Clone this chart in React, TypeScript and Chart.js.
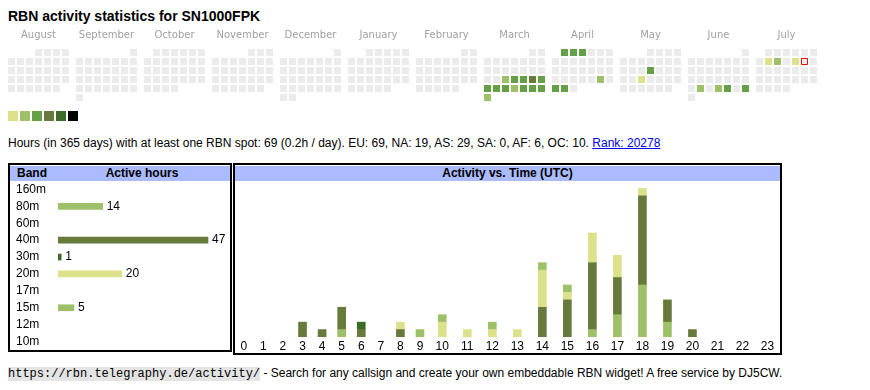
import React, { useEffect, useRef } from 'react';
import { Chart, registerables } from 'chart.js';

Chart.register(...registerables);

const SANS = '"Liberation Sans", Arial, Helvetica, sans-serif';
const MONO = '"Liberation Mono", "Courier New", monospace';

// ---------- data ----------
const CALLSIGN = 'SN1000FPK';
const MONTHS = ['August', 'September', 'October', 'November', 'December', 'January', 'February', 'March', 'April', 'May', 'June', 'July'];
const START_YEAR = 2024;
const START_MONTH = 7; // August (0-based)
const TODAY = '2025-07-12';

const ACTIVE_DATES = [
  '2025-03-19', '2025-03-20', '2025-03-21', '2025-03-22', '2025-03-23',
  '2025-03-24', '2025-03-25', '2025-03-26', '2025-03-27', '2025-03-28', '2025-03-29', '2025-03-30', '2025-03-31',
  '2025-04-01', '2025-04-02', '2025-04-03', '2025-04-26', '2025-04-28', '2025-04-29',
  '2025-05-15', '2025-05-21',
  '2025-06-24', '2025-06-26', '2025-06-27', '2025-06-29',
  '2025-07-08', '2025-07-09', '2025-07-11',
];
const ACTIVE_LEVELS = [
  2, 3, 3, 4, 3,
  3, 3, 3, 2, 3, 3, 3, 2,
  3, 3, 3, 2, 3, 3,
  3, 1,
  2, 2, 3, 3,
  1, 2, 1,
];
const LEVEL_COLORS = ['#ebebeb', '#dce28c', '#9dc069', '#66a046', '#677a3b', '#3b6b27', '#000000'];

const BANDS = ['160m', '80m', '60m', '40m', '30m', '20m', '17m', '15m', '12m', '10m'];
const BAND_COLORS = ['#c8c8c8', '#9dc069', '#c8c8c8', '#677a3b', '#3b6b27', '#dce28c', '#c8c8c8', '#9dc069', '#c8c8c8', '#c8c8c8'];
const HOURS = ['0', '1', '2', '3', '4', '5', '6', '7', '8', '9', '10', '11', '12', '13', '14', '15', '16', '17', '18', '19', '20', '21', '22', '23'];

const HOURS_160M: number[] = [];
const HOURS_80M = [0, 0, 0, 0, 0, 1, 0, 0, 0, 0, 0, 0, 0, 0, 0, 0, 1, 3, 7, 2, 0, 0, 0, 0];
const HOURS_60M: number[] = [];
const HOURS_40M = [0, 0, 0, 2, 1, 3, 1, 0, 1, 0, 0, 0, 0, 0, 4, 5, 9, 5, 12, 3, 1, 0, 0, 0];
const HOURS_30M = [0, 0, 0, 0, 0, 0, 1, 0, 0, 0, 0, 0, 0, 0, 0, 0, 0, 0, 0, 0, 0, 0, 0, 0];
const HOURS_20M = [0, 0, 0, 0, 0, 0, 0, 0, 1, 0, 2, 1, 1, 1, 5, 1, 4, 3, 1, 0, 0, 0, 0, 0];
const HOURS_17M: number[] = [];
const HOURS_15M = [0, 0, 0, 0, 0, 0, 0, 0, 0, 1, 1, 0, 1, 0, 1, 1, 0, 0, 0, 0, 0, 0, 0, 0];
const HOURS_12M: number[] = [];
const HOURS_10M: number[] = [];
const BAND_HOURS = [HOURS_160M, HOURS_80M, HOURS_60M, HOURS_40M, HOURS_30M, HOURS_20M, HOURS_17M, HOURS_15M, HOURS_12M, HOURS_10M];

const TOTAL_HOURS = 69;
const DAYS = 365;
const PER_DAY = '0.2h';
const CONTINENTS = ['EU', 'NA', 'AS', 'SA', 'AF', 'OC'];
const CONTINENT_HOURS = [69, 19, 29, 0, 6, 10];
const RANK = 20278;

// ---------- layout ----------
const CAL_W = 830;
const CAL_H = 100;
const CAL_TOP = 24; // page y of calendar canvas
const CAL_PAD_TOP = 5;
const CAL_AXIS_H = 12;
const PITCH = 9; // px per cell step
const CELL = 7;
const BLOCK_UNITS = 68 / PITCH; // month block step in cell units
const CAL_X_MIN = -(8 + CELL / 2) / PITCH;
const CAL_AREA_TOP = CAL_PAD_TOP + CAL_AXIS_H;
const CAL_Y_MIN = -((49 - CAL_TOP) + CELL / 2 - CAL_AREA_TOP) / PITCH;
const LEGEND_Y = (116 - CAL_TOP - CAL_AREA_TOP) / PITCH + CAL_Y_MIN;
const LEGEND_X = (i: number) => (13 + 12 * i) / PITCH + CAL_X_MIN;

const BAND_PLOT_W = 172;
const BAND_MAX_BAR = 150;

const HOUR_CELL_PAD = 2.6;
const HOUR_X: number[] = [];
let HOUR_TOTAL = 0;
HOURS.forEach((h) => {
  const w = HOUR_CELL_PAD + h.length;
  HOUR_X.push(HOUR_TOTAL + w / 2);
  HOUR_TOTAL += w;
});

const pad2 = (n: number) => String(n).padStart(2, '0');

const valueLabels = {
  id: 'valueLabels',
  afterDatasetsDraw(chart: any) {
    const ctx = chart.ctx;
    const meta = chart.getDatasetMeta(0);
    const data = chart.data.datasets[0].data as (number | null)[];
    ctx.save();
    ctx.font = `12px ${SANS}`;
    ctx.fillStyle = '#000';
    ctx.textBaseline = 'middle';
    ctx.textAlign = 'left';
    meta.data.forEach((bar: any, i: number) => {
      const v = data[i];
      if (v != null && v > 0) ctx.fillText(String(v), bar.x + 4, bar.y);
    });
    ctx.restore();
  },
};

export default function App() {
  const calRef = useRef<HTMLCanvasElement>(null);
  const bandRef = useRef<HTMLCanvasElement>(null);
  const hourRef = useRef<HTMLCanvasElement>(null);

  useEffect(() => {
    const charts: Chart[] = [];

    // ----- calendar -----
    const levelByDate = new Map<string, number>(ACTIVE_DATES.map((d, i) => [d, ACTIVE_LEVELS[i]]));
    const cells: { x: number; y: number }[] = [];
    const cellColors: string[] = [];
    const todayPts: { x: number; y: number }[] = [];
    MONTHS.forEach((_, b) => {
      const y = START_YEAR + Math.floor((START_MONTH + b) / 12);
      const m = (START_MONTH + b) % 12;
      const nDays = new Date(y, m + 1, 0).getDate();
      const offset = (new Date(y, m, 1).getDay() + 6) % 7;
      for (let d = 1; d <= nDays; d++) {
        const k = offset + d - 1;
        const key = `${y}-${pad2(m + 1)}-${pad2(d)}`;
        const pt = { x: b * BLOCK_UNITS + (k % 7), y: Math.floor(k / 7) };
        cells.push(pt);
        cellColors.push(LEVEL_COLORS[levelByDate.get(key) ?? 0]);
        if (key === TODAY) todayPts.push(pt);
      }
    });
    const legendPts = LEVEL_COLORS.slice(1).map((_, i) => ({ x: LEGEND_X(i), y: LEGEND_Y }));

    charts.push(
      new Chart(calRef.current!, {
        type: 'scatter',
        data: {
          datasets: [
            {
              data: todayPts,
              pointStyle: 'rect',
              pointRadius: 3 * Math.SQRT2,
              pointBackgroundColor: LEVEL_COLORS[0],
              pointBorderColor: '#ff0000',
              pointBorderWidth: 1,
              clip: false,
            } as any,
            {
              data: cells,
              pointStyle: 'rect',
              pointRadius: CELL / Math.SQRT2,
              pointBackgroundColor: cellColors,
              pointBorderWidth: 0,
              clip: false,
            },
            {
              data: legendPts,
              pointStyle: 'rect',
              pointRadius: 10 / Math.SQRT2,
              pointBackgroundColor: LEVEL_COLORS.slice(1),
              pointBorderWidth: 0,
              clip: false,
            },
          ],
        },
        options: {
          animation: false,
          responsive: false,
          events: [],
          layout: { autoPadding: false, padding: { top: CAL_PAD_TOP, left: 0, right: 0, bottom: 0 } },
          plugins: { legend: { display: false }, tooltip: { enabled: false } },
          scales: {
            x: {
              type: 'linear',
              position: 'top',
              bounds: 'data',
              min: CAL_X_MIN,
              max: CAL_X_MIN + CAL_W / PITCH,
              grid: { display: false, drawTicks: false },
              border: { display: false },
              ticks: {
                autoSkip: false,
                maxRotation: 0,
                padding: 0,
                color: '#a0a0a0',
                font: { family: '"DejaVu Sans", Verdana, sans-serif', size: 10 },
                callback: (_v: any, i: number) => MONTHS[i],
              },
              afterBuildTicks: (s: any) => {
                s.ticks = MONTHS.map((_, b) => ({ value: b * BLOCK_UNITS + 3 }));
              },
              afterFit: (s: any) => {
                s.height = CAL_AXIS_H;
              },
            },
            y: {
              type: 'linear',
              display: false,
              reverse: true,
              bounds: 'data',
              min: CAL_Y_MIN,
              max: CAL_Y_MIN + (CAL_H - CAL_AREA_TOP) / PITCH,
            },
          },
        } as any,
      })
    );

    // ----- band table -----
    const totals = BAND_HOURS.map((a) => a.reduce((s, v) => s + v, 0));
    const maxTotal = Math.max(...totals);
    charts.push(
      new Chart(bandRef.current!, {
        type: 'bar',
        data: {
          labels: BANDS,
          datasets: [
            {
              data: totals.map((v) => (v > 0 ? v : null)),
              backgroundColor: BAND_COLORS,
              barThickness: 6,
              borderWidth: 0,
            },
          ],
        },
        options: {
          indexAxis: 'y',
          animation: false,
          responsive: false,
          events: [],
          layout: { autoPadding: false, padding: { left: 6, top: 8, bottom: 8, right: 0 } },
          plugins: { legend: { display: false }, tooltip: { enabled: false } },
          scales: {
            x: { display: false, min: 0, max: (maxTotal * BAND_PLOT_W) / BAND_MAX_BAR },
            y: {
              grid: { display: false, drawTicks: false },
              border: { display: false },
              ticks: { autoSkip: false, crossAlign: 'far', padding: 0, color: '#000', font: { family: SANS, size: 12 } },
              afterFit: (s: any) => {
                s.width = 42;
              },
            },
          },
        } as any,
        plugins: [valueLabels],
      })
    );

    // ----- activity vs time -----
    charts.push(
      new Chart(hourRef.current!, {
        type: 'bar',
        data: {
          datasets: BANDS.map((b, i) => ({
            label: b,
            data: BAND_HOURS[i].map((v, h) => ({ x: HOUR_X[h], y: v })).filter((p) => p.y > 0),
            backgroundColor: BAND_COLORS[i],
            barThickness: 8,
            borderWidth: 0,
          })),
        },
        options: {
          animation: false,
          responsive: false,
          events: [],
          layout: { autoPadding: false, padding: 0 },
          plugins: { legend: { display: false }, tooltip: { enabled: false } },
          scales: {
            x: {
              type: 'linear',
              stacked: true,
              offset: false,
              bounds: 'data',
              min: 0,
              max: HOUR_TOTAL,
              grid: { display: false, drawTicks: false },
              border: { display: false },
              ticks: {
                autoSkip: false,
                maxRotation: 0,
                padding: 2,
                color: '#000',
                font: { family: SANS, size: 12 },
                callback: (_v: any, i: number) => HOURS[i],
              },
              afterBuildTicks: (s: any) => {
                s.ticks = HOUR_X.map((v) => ({ value: v }));
              },
              afterFit: (s: any) => {
                s.height = 16;
              },
            },
            y: { display: false, stacked: true, min: 0, max: 21 },
          },
        } as any,
      })
    );

    return () => charts.forEach((c) => c.destroy());
  }, []);

  const abs = (l: number, t: number, extra: React.CSSProperties = {}): React.CSSProperties => ({
    position: 'absolute',
    left: l,
    top: t,
    ...extra,
  });

  const statsText =
    `Hours (in ${DAYS} days) with at least one RBN spot: ${TOTAL_HOURS} (${PER_DAY} / day). ` +
    CONTINENTS.map((c, i) => `${c}: ${CONTINENT_HOURS[i]}`).join(', ') +
    '. ';

  return (
    <div style={{ position: 'fixed', left: 0, top: 0, width: 870, height: 390, background: '#fff', fontFamily: SANS, color: '#000' }}>
      <div style={abs(8, 8, { fontSize: 14, fontWeight: 'bold', lineHeight: '16px', whiteSpace: 'nowrap' })}>
        RBN activity statistics for {CALLSIGN}
      </div>
      <canvas ref={calRef} width={CAL_W} height={CAL_H} style={abs(0, CAL_TOP, { width: CAL_W, height: CAL_H, display: 'block' })} />

      <div style={abs(8, 136, { fontSize: 12, lineHeight: '14px', whiteSpace: 'nowrap' })}>
        {statsText}
        <a href="#" style={{ color: '#0000ee', textDecoration: 'underline' }}>
          Rank: {RANK}
        </a>
      </div>

      {/* band table box */}
      <div style={abs(8, 163, { width: 224, height: 189, border: '2px solid #000', boxSizing: 'border-box' })} />
      <div style={abs(10, 166, { width: 220, height: 15, background: '#aabbff' })} />
      <div style={abs(17, 165, { fontSize: 12, fontWeight: 'bold', lineHeight: '16px' })}>Band</div>
      <div style={abs(60, 165, { width: 164, textAlign: 'center', fontSize: 12, fontWeight: 'bold', lineHeight: '16px' })}>
        Active hours
      </div>
      <canvas ref={bandRef} width={220} height={185} style={abs(10, 173, { width: 220, height: 185, display: 'block' })} />

      {/* activity box */}
      <div style={abs(233, 163, { width: 549, height: 192, border: '2px solid #000', boxSizing: 'border-box' })} />
      <div style={abs(235, 166, { width: 545, height: 15, background: '#aabbff' })} />
      <div style={abs(235, 165, { width: 545, textAlign: 'center', fontSize: 12, fontWeight: 'bold', lineHeight: '16px' })}>
        Activity vs. Time (UTC)
      </div>
      <canvas ref={hourRef} width={546} height={172} style={abs(234, 181, { width: 546, height: 172, display: 'block' })} />

      <div style={abs(8, 365, { fontSize: 12, lineHeight: '16px', whiteSpace: 'nowrap' })}>
        <span style={{ fontFamily: MONO, fontSize: 12, background: '#e4e4e4' }}>https://rbn.telegraphy.de/activity/</span>
        {' - Search for any callsign and create your own embeddable RBN widget! A free service by DJ5CW.'}
      </div>
    </div>
  );
}
